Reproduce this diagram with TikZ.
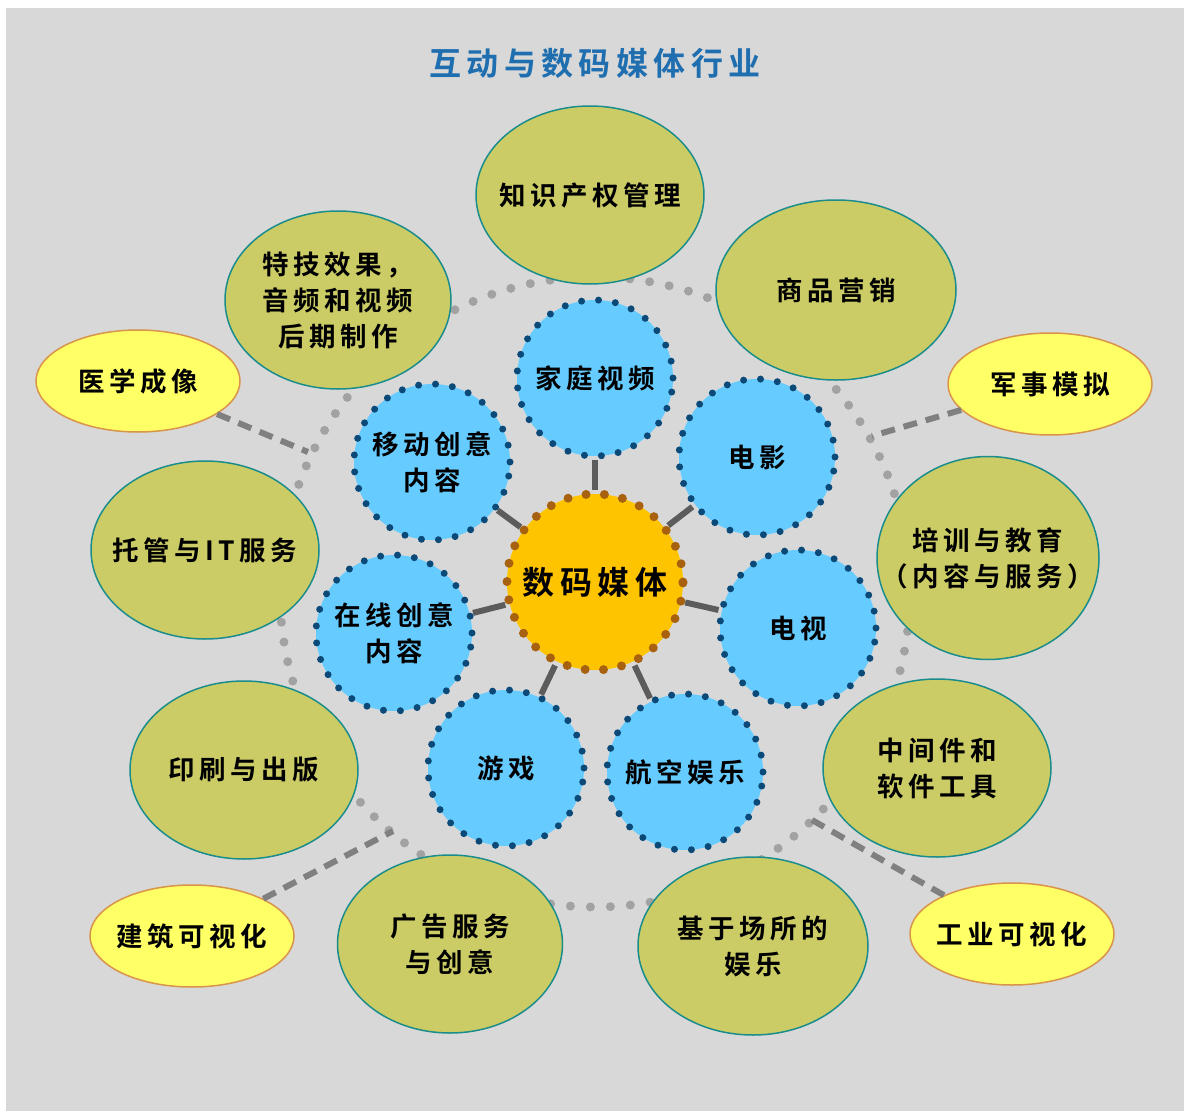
\documentclass[tikz,border=0pt]{standalone}
\usepackage{fontspec}
\setmainfont{Noto Sans CJK SC}[BoldFont={Noto Sans CJK SC Bold},LetterSpace=17]
\usetikzlibrary{shapes.geometric}
\definecolor{bggray}{HTML}{D8D8D8}
\definecolor{olive}{HTML}{CCCC66}
\definecolor{tealline}{HTML}{1A8C8C}
\definecolor{sky}{HTML}{66CCFF}
\definecolor{navy}{HTML}{0B4A78}
\definecolor{gold}{HTML}{FFC400}
\definecolor{rust}{HTML}{A8620F}
\definecolor{lemon}{HTML}{FFFF66}
\definecolor{tan}{HTML}{D8944A}
\definecolor{ringgray}{HTML}{A2A2A2}
\definecolor{spokegray}{HTML}{5C5C5C}
\definecolor{titleblue}{HTML}{1F6EB0}
\begin{document}
\begin{tikzpicture}[x=1pt, y=-1pt,
  txt/.style = {align=center, font=\fontsize{26.5}{36}\selectfont\bfseries},
  hub/.style = {circle, fill=gold, draw=rust, line width=9pt, line cap=round,
    dash pattern=on 0pt off 18.4pt, minimum size=176pt, inner sep=0pt,
    font=\fontsize{32}{36}\selectfont\bfseries},
  media/.style = {circle, fill=sky, draw=navy, line width=7pt, line cap=round,
    dash pattern=on 0pt off 17pt, minimum size=156pt, inner sep=0pt, txt},
  trade/.style = {ellipse, fill=olive, draw=tealline, line width=1.5pt,
    minimum width=228pt, minimum height=178pt, inner sep=0pt},
  extra/.style = {ellipse, fill=lemon, draw=tan, line width=1.5pt,
    minimum width=204pt, minimum height=102pt, inner sep=0pt},
  ring/.style = {draw=ringgray, line width=9pt, line cap=round,
    dash pattern=on 0pt off 20pt},
  spoke/.style = {draw=spokegray, line width=6pt},
  link/.style = {draw=gray, line width=6pt, dash pattern=on 14pt off 9pt}
  ]
  \useasboundingbox (0,0) rectangle (1184,1111);
  \fill[bggray] (6,8) rectangle (1184,1111);
  \node[text=titleblue, font=\fontsize{32}{36}\selectfont\bfseries] (title) at (595,63) {互动与数码媒体行业};

  % dotted ring behind the outer ellipses
  \path[ring] (595,592) circle (315pt);

  % core and the seven media
  \node[hub] (core) at (595,582) {数码媒体};
  \node[media] (home)   at (595,378) {家庭视频};
  \node[media] (film)   at (757,457) {电影};
  \node[media] (tv)     at (798,628) {电视};
  \node[media] (flight) at (685,772) {航空娱乐};
  \node[media] (game)   at (506,768) {游戏};
  \node[media] (online) at (394,633) {在线创意\\内容};
  \node[media] (mobile) at (432,462) {移动创意\\内容};

  % industries
  \node[trade, label={[txt]center:知识产权管理}] (ipr) at (590,195) {};
  \node[trade, minimum width=240pt, minimum height=180pt,
    label={[txt]center:商品营销}] (sales) at (836,290) {};
  \node[trade, minimum width=222pt, minimum height=203pt,
    label={[txt]center:培训与教育\\（内容与服务）}] (edu) at (988,558) {};
  \node[trade, label={[txt]center:中间件和\\软件工具}] (tools) at (937,768) {};
  \node[trade, minimum width=230pt,
    label={[txt]center:基于场所的\\娱乐}] (venue) at (753,946) {};
  \node[trade, minimum width=225pt,
    label={[txt]center:广告服务\\与创意}] (ads) at (450,944) {};
  \node[trade, label={[txt]center:印刷与出版}] (print) at (244,770) {};
  \node[trade, label={[txt]center:托管与IT服务}] (host) at (205,550) {};
  \node[trade, minimum width=226pt,
    label={[txt]center:特技效果，\\音频和视频\\后期制作}] (sfx) at (338,300) {};

  % visualisation and simulation
  \node[extra, label={[txt]center:医学成像}] (med) at (138,381) {};
  \node[extra, label={[txt]center:军事模拟}] (mil) at (1050,384) {};
  \node[extra, label={[txt]center:建筑可视化}] (arch) at (192,936) {};
  \node[extra, label={[txt]center:工业可视化}] (ind) at (1012,934) {};

  \coordinate (medend)  at (308,452);
  \coordinate (milend)  at (872,436);
  \coordinate (archend) at (393,831);
  \coordinate (indend)  at (812,820);

  \foreach \m in {home,film,tv,flight,game,online,mobile}
    \path[spoke] (core) -- (\m);

  \path[link] (med) -- (medend);
  \path[link] (mil) -- (milend);
  \path[link] (arch) -- (archend);
  \path[link] (ind) -- (indend);
\end{tikzpicture}
\end{document}
